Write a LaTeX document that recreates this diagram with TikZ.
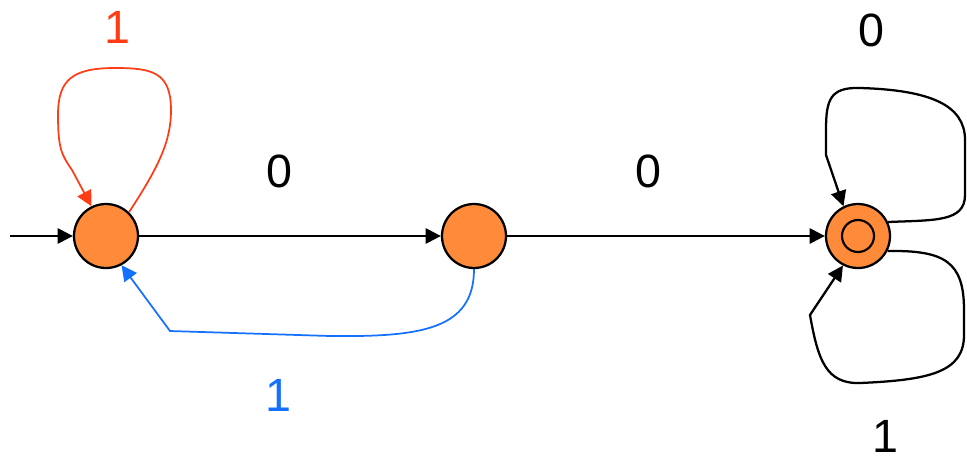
\documentclass[tikz,border=0pt]{standalone}
\usepackage{fontspec}
\setmainfont{Liberation Sans}
\usetikzlibrary{arrows.meta}
\definecolor{stfill}{HTML}{FF8A3A}
\definecolor{redloop}{HTML}{FF3C14}
\definecolor{blueback}{HTML}{1470FF}
\tikzset{
  state/.style={circle,draw=black,line width=1.7pt,fill=stfill,minimum size=48pt,inner sep=0pt},
  inner ring/.style={circle,draw=black,line width=1.6pt,minimum size=24pt,inner sep=0pt},
  edge/.style={line width=1.7pt,-{Triangle[length=11.5pt,width=11.5pt]}},
  thinedge/.style={line width=1.3pt,-{Triangle[length=11.5pt,width=11.5pt]}},
  lbl/.style={inner sep=0pt,font=\fontsize{35}{40}\selectfont}
}
\begin{document}
\begin{tikzpicture}[x=0.75pt,y=-0.75pt]
\useasboundingbox (0,0) rectangle (967,462);
\node[state] (q0) at (106,236) {};
\node[state] (q1) at (474,236) {};
\node[state] (q2) at (858,236) {};
\node[inner ring] (q2in) at (q2) {};
\coordinate (start) at (10,236);

\draw[edge] (start) -- (q0);
\draw[edge] (q0) -- (q1);
\draw[edge] (q1) -- (q2);

% red self loop on q0
\draw[thinedge,color=redloop]
  (q0.46) .. controls (160,165) and (171,140) .. (171,110)
  .. controls (171,72) and (152,68) .. (115,68)
  .. controls (72,68) and (58,80) .. (58,115)
  .. controls (58,150) and (62,155) .. (72,170) -- (q0.116);

% blue back edge q1 -> q0
\draw[thinedge,color=blueback]
  (q1.south) .. controls (474,330) and (420,337) .. (330,336)
  -- (170,331) -- (q0.298);

% loops on q2
\draw[edge]
  (q2.25) .. controls (935,220) and (965,222) .. (965,195)
  -- (965,140) .. controls (965,105) and (930,90) .. (860,88)
  .. controls (830,87) and (826,100) .. (826,130) -- (826,155) -- (q2.116);
\draw[edge]
  (q2.333) .. controls (945,250) and (964,262) .. (964,310)
  -- (964,335) .. controls (964,372) and (930,380) .. (860,383)
  .. controls (826,384) and (818,360) .. (810,315) -- (q2.243);

\node[lbl,text=redloop] (l1) at (117,27) {1};
\node[lbl] (l2) at (279,171) {0};
\node[lbl] (l3) at (648,171) {0};
\node[lbl,text=blueback] (l4) at (278,395) {1};
\node[lbl] (l5) at (871,30) {0};
\node[lbl] (l6) at (885,436) {1};
\end{tikzpicture}
\end{document}
